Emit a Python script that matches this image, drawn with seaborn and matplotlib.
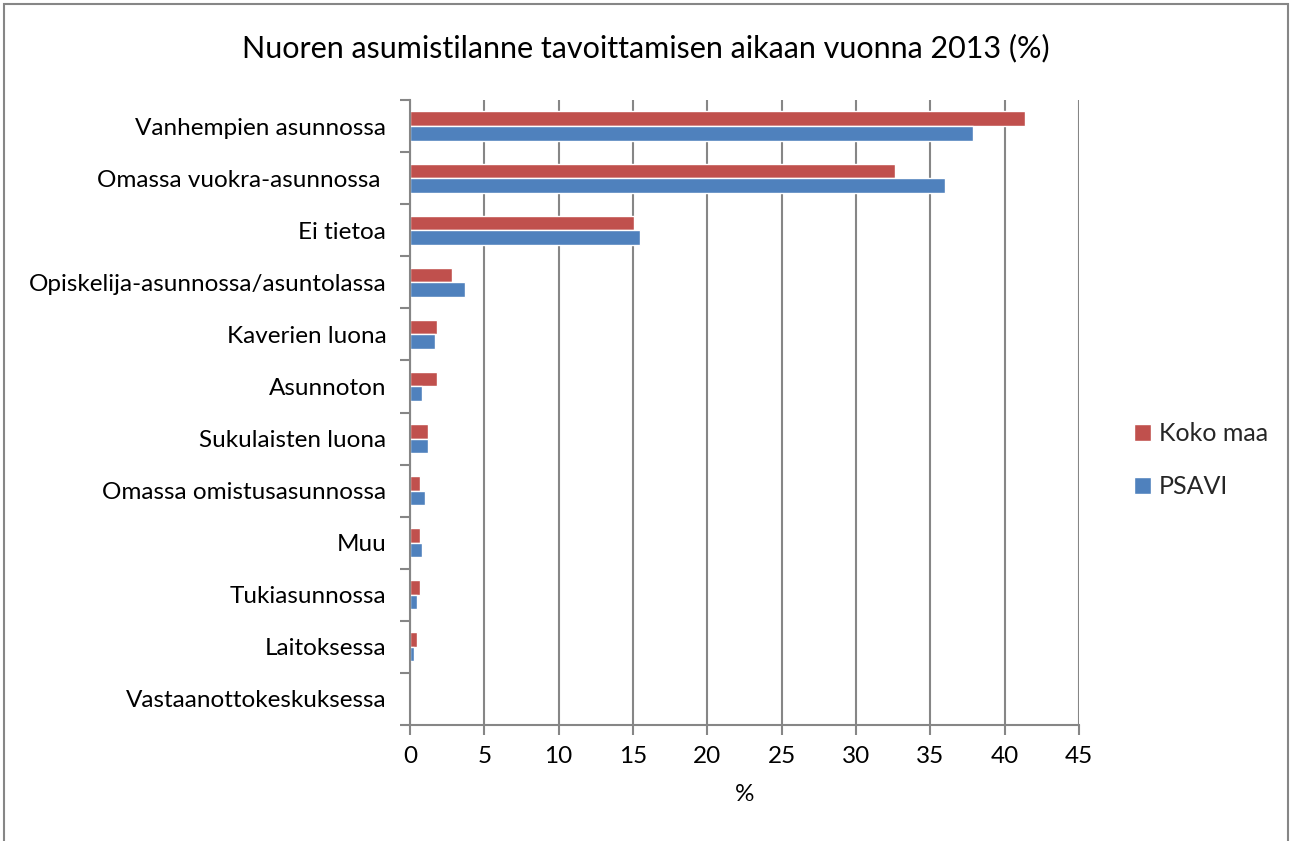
import pandas as pd
import numpy as np
import matplotlib.pyplot as plt
import seaborn as sns
from matplotlib.patches import Rectangle
from matplotlib.ticker import FixedLocator

# Data
categories = ["Vanhempien asunnossa", "Omassa vuokra-asunnossa ", "Ei tietoa",
              "Opiskelija-asunnossa/asuntolassa", "Kaverien luona", "Asunnoton",
              "Sukulaisten luona", "Omassa omistusasunnossa", "Muu",
              "Tukiasunnossa", "Laitoksessa", "Vastaanottokeskuksessa"]
koko_maa = [41.4, 32.6, 15.1, 2.8, 1.8, 1.8, 1.2, 0.7, 0.7, 0.7, 0.5, 0.0]
psavi = [37.9, 36.0, 15.5, 3.7, 1.7, 0.8, 1.2, 1.0, 0.8, 0.5, 0.3, 0.0]
series = ["Koko maa", "PSAVI"]
x_ticks = [0, 5, 10, 15, 20, 25, 30, 35, 40, 45]

df = pd.DataFrame({
    "kategoria": categories * 2,
    "arvo": koko_maa + psavi,
    "sarja": [series[0]] * len(categories) + [series[1]] * len(categories),
})

sns.set_theme(style="white")
plt.rcParams['font.family'] = ['Lato', 'DejaVu Sans']

fig = plt.figure(figsize=(12.92, 8.41), dpi=100)
ax = fig.add_axes([0.3173, 0.1379, 0.8351 - 0.3173, 0.8811 - 0.1379])

grid_col = "#868686"
ax.set_axisbelow(True)
ax.xaxis.grid(True, color=grid_col, linewidth=1.5)

sns.barplot(data=df, y="kategoria", x="arvo", hue="sarja", hue_order=series,
            order=categories, palette=["#C0504D", "#4F81BD"], width=0.56,
            saturation=1, orient="h", ax=ax, legend=True)

ax.set_xlim(0, 45)
ax.set_ylim(len(categories) - 0.5, -0.5)
ax.set_xticks(x_ticks)
ax.set_xticklabels([str(t) for t in x_ticks], fontsize=17.5, color="#000000")
ax.set_yticklabels(categories, fontsize=17.5, color="#000000")
ax.tick_params(axis="y", which="major", length=0, pad=17)
ax.yaxis.set_minor_locator(FixedLocator(np.arange(-0.5, len(categories), 1)))
ax.tick_params(axis="y", which="minor", left=True, length=7, width=1.5, color=grid_col)
ax.tick_params(axis="x", which="major", bottom=True, length=7, width=1.5, color=grid_col, pad=8)

for side in ["top", "right"]:
    ax.spines[side].set_visible(False)
for side in ["left", "bottom"]:
    ax.spines[side].set_color(grid_col)
    ax.spines[side].set_linewidth(1.5)

ax.set_ylabel("")
ax.set_xlabel("%", fontsize=17.5, color="#000000", labelpad=12)

leg = ax.legend(loc="center left", bbox_to_anchor=(1.048, 0.424), frameon=False,
                fontsize=18, handlelength=0.7, handleheight=0.7, handletextpad=0.3,
                labelspacing=1.2)

fig.suptitle("Nuoren asumistilanne tavoittamisen aikaan vuonna 2013 (%)",
             fontsize=22, x=0.5, y=0.96, va="top", color="#000000")

fig.patches.append(Rectangle((4 / 1292, -0.1), 1284 / 1292, 1.1 - 4 / 841,
                             transform=fig.transFigure, fill=False,
                             edgecolor=grid_col, linewidth=1.5))

fig.savefig("out.png", dpi=100)
